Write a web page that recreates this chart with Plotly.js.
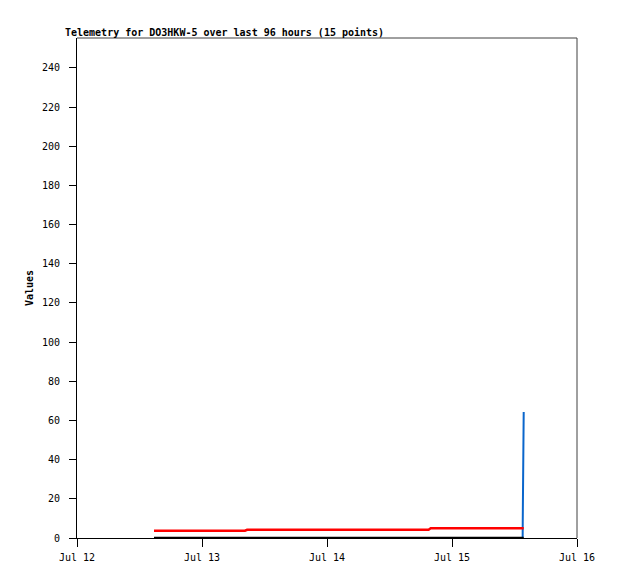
<!DOCTYPE html>
<html>
<head>
<meta charset="utf-8">
<script src="https://cdn.plot.ly/plotly-3.0.1.min.js"></script>
<style>html,body{margin:0;padding:0;background:#fff;}#chart{width:618px;height:579px;}</style>
</head>
<body>
<div id="chart"></div>
<script>
const times = [
  '2024-07-12 14:47', '2024-07-12 22:30', '2024-07-13 08:15', '2024-07-13 08:40',
  '2024-07-13 18:00', '2024-07-14 04:00', '2024-07-14 12:00', '2024-07-14 19:30',
  '2024-07-14 19:55', '2024-07-15 02:00', '2024-07-15 08:00', '2024-07-15 13:25',
  '2024-07-15 13:34', '2024-07-15 13:35', '2024-07-15 13:46'
];
const redValues   = [3.7, 3.7, 3.7, 4.2, 4.2, 4.2, 4.2, 4.2, 4.95, 4.95, 4.95, 4.95, 4.95, 4.95, 4.95];
const blueValues  = [0, 0, 0, 0, 0, 0, 0, 0, 0, 0, 0, 0, 0, 8.3, 64.3];
const blackValues = [0, 0, 0, 0, 0, 0, 0, 0, 0, 0, 0, 0, 0, 0, 0];
const xTickVals = ['2024-07-12', '2024-07-13', '2024-07-14', '2024-07-15', '2024-07-16'];
const xTickText = ['Jul 12', 'Jul 13', 'Jul 14', 'Jul 15', 'Jul 16'];
const yTickVals = [0, 20, 40, 60, 80, 100, 120, 140, 160, 180, 200, 220, 240];
const titleText = 'Telemetry for DO3HKW-5 over last 96 hours (15 points)';

const mono = 'DejaVu Sans Mono, Liberation Mono, monospace';

const traces = [
  {x: times, y: blueValues, mode: 'lines', line: {color: '#0a66cc', width: 2}, hoverinfo: 'skip', showlegend: false},
  {x: times, y: redValues, mode: 'lines', line: {color: '#ff0000', width: 2.5}, hoverinfo: 'skip', showlegend: false},
  {x: times, y: blackValues, mode: 'lines', line: {color: '#000000', width: 2.5}, hoverinfo: 'skip', showlegend: false}
];

const layout = {
  width: 618, height: 579,
  margin: {l: 77, r: 41, t: 38, b: 41},
  paper_bgcolor: '#ffffff', plot_bgcolor: '#ffffff',
  showlegend: false,
  font: {family: mono, size: 10, color: '#000'},
  title: {
    text: '<b>' + titleText + '</b>',
    font: {family: mono, size: 10, color: '#000'},
    xref: 'paper', x: 0, xanchor: 'left',
    yref: 'paper', y: 1, yanchor: 'bottom', pad: {b: 2, l: -12}
  },
  shapes: [
    {type: 'line', xref: 'paper', yref: 'paper', x0: 0, x1: 1, y0: 1, y1: 1, line: {color: '#404040', width: 1}},
    {type: 'line', xref: 'paper', yref: 'paper', x0: 1, x1: 1, y0: 0, y1: 1, line: {color: '#404040', width: 1}}
  ],
  xaxis: {
    type: 'date', range: ['2024-07-12', '2024-07-16'],
    tickmode: 'array', tickvals: xTickVals, ticktext: xTickText,
    ticks: 'outside', ticklen: 8, tickcolor: '#000', tickwidth: 1,
    showline: true, linecolor: '#000', linewidth: 1, mirror: false,
    showgrid: false, zeroline: false, ticklabelstandoff: 2,
    tickfont: {family: mono, size: 10, color: '#000'}
  },
  yaxis: {
    range: [0, 255.3],
    tickmode: 'array', tickvals: yTickVals,
    ticks: 'outside', ticklen: 7, tickcolor: '#000', tickwidth: 1,
    showline: true, linecolor: '#000', linewidth: 1, mirror: false,
    showgrid: false, zeroline: false, ticklabelstandoff: 7,
    tickfont: {family: mono, size: 10, color: '#000'},
    title: {text: '<b>Values</b>', font: {family: mono, size: 10, color: '#000'}, standoff: 6}
  }
};

Plotly.newPlot('chart', traces, layout, {staticPlot: true, displayModeBar: false});
</script>
</body>
</html>
